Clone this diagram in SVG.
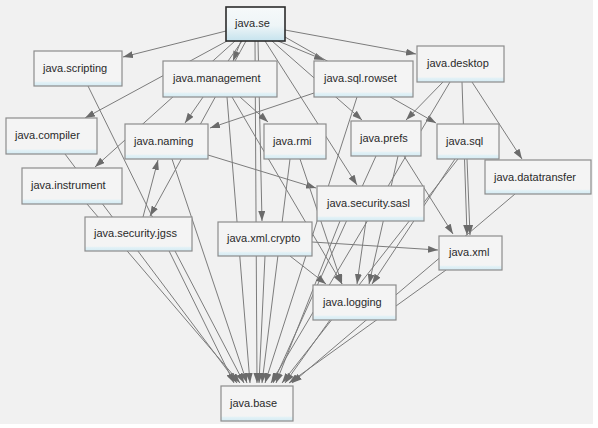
<svg xmlns="http://www.w3.org/2000/svg" width="598" height="428" viewBox="0 0 598 428">
<style>
.n rect.b{fill:url(#nf);stroke:#8c8c8c;stroke-width:1.2}
.n text{font-family:"Liberation Sans",Arial,sans-serif;font-size:11px;fill:#2a2a2a}
#conn line{stroke:#7c7c7c;stroke-width:1;fill:none;marker-end:url(#ah)}
</style>
<defs>
<linearGradient id="nf" x1="0" y1="0" x2="0" y2="1">
<stop offset="0" stop-color="#f4f4f4"/>
<stop offset="0.86" stop-color="#f4f4f4"/>
<stop offset="0.9" stop-color="#e2f1f6"/>
<stop offset="1" stop-color="#d4ebf3"/>
</linearGradient>
<linearGradient id="sef" x1="0" y1="0" x2="0" y2="1">
<stop offset="0" stop-color="#f6f9fa"/>
<stop offset="0.55" stop-color="#eef5f7"/>
<stop offset="1" stop-color="#c6e3ee"/>
</linearGradient>
<marker id="ah" markerWidth="10" markerHeight="7" refX="10" refY="3.5" orient="auto" markerUnits="userSpaceOnUse">
<path d="M0,0 L10,3.5 L0,7 z" fill="#6b6b6b"/>
</marker>
</defs>
<rect x="0" y="0" width="598" height="428" fill="#ffffff"/>
<rect x="0" y="0" width="593" height="424" fill="#f1f1f1"/>
<g id="conn">
<line x1="226" y1="31" x2="123" y2="57"/>
<line x1="227" y1="41" x2="85" y2="118"/>
<line x1="241" y1="41" x2="233" y2="61"/>
<line x1="235" y1="41" x2="95" y2="167"/>
<line x1="242" y1="41" x2="185" y2="123"/>
<line x1="246" y1="41" x2="150" y2="216"/>
<line x1="258" y1="41" x2="262" y2="221"/>
<line x1="255" y1="41" x2="257" y2="383"/>
<line x1="265" y1="41" x2="357" y2="185"/>
<line x1="272" y1="41" x2="362" y2="120"/>
<line x1="278" y1="41" x2="324" y2="60"/>
<line x1="285" y1="37" x2="436" y2="123"/>
<line x1="285" y1="30" x2="416" y2="54"/>
<line x1="240" y1="97" x2="268" y2="122"/>
<line x1="227" y1="97" x2="250" y2="383"/>
<line x1="232" y1="97" x2="342" y2="284"/>
<line x1="314" y1="93" x2="210" y2="128"/>
<line x1="357" y1="97" x2="265" y2="383"/>
<line x1="208" y1="155" x2="316" y2="188"/>
<line x1="172" y1="159" x2="247" y2="383"/>
<line x1="143" y1="217" x2="158" y2="160"/>
<line x1="175" y1="251" x2="244" y2="383"/>
<line x1="88" y1="86" x2="234" y2="383"/>
<line x1="65" y1="154" x2="237" y2="383"/>
<line x1="87" y1="204" x2="240" y2="383"/>
<line x1="300" y1="159" x2="342" y2="284"/>
<line x1="290" y1="159" x2="262" y2="383"/>
<line x1="443" y1="82" x2="406" y2="120"/>
<line x1="472" y1="82" x2="522" y2="159"/>
<line x1="462" y1="82" x2="467" y2="235"/>
<line x1="450" y1="82" x2="271" y2="383"/>
<line x1="404" y1="156" x2="453" y2="234"/>
<line x1="398" y1="156" x2="369" y2="284"/>
<line x1="376" y1="156" x2="273" y2="383"/>
<line x1="467" y1="159" x2="470" y2="235"/>
<line x1="455" y1="159" x2="372" y2="284"/>
<line x1="458" y1="159" x2="282" y2="383"/>
<line x1="366" y1="221" x2="357" y2="284"/>
<line x1="340" y1="221" x2="276" y2="383"/>
<line x1="312" y1="242" x2="438" y2="250"/>
<line x1="290" y1="256" x2="326" y2="284"/>
<line x1="265" y1="256" x2="259" y2="383"/>
<line x1="446" y1="270" x2="289" y2="383"/>
<line x1="515" y1="194" x2="292" y2="383"/>
<line x1="330" y1="320" x2="285" y2="383"/>
</g>
<g id="java.se" class="n"><rect x="226" y="7" width="59" height="34" fill="url(#sef)" stroke="#2b2b2b" stroke-width="1.6"/><text x="235" y="27">java.se</text></g>
<g id="java.scripting" class="n"><rect class="b" x="34" y="51" width="88" height="35"/><text x="43" y="72">java.scripting</text></g>
<g id="java.management" class="n"><rect class="b" x="163" y="61" width="114" height="36"/><text x="173" y="82">java.management</text></g>
<g id="java.sql.rowset" class="n"><rect class="b" x="314" y="61" width="99" height="36"/><text x="324" y="82">java.sql.rowset</text></g>
<g id="java.desktop" class="n"><rect class="b" x="417" y="46" width="87" height="36"/><text x="427" y="67">java.desktop</text></g>
<g id="java.compiler" class="n"><rect class="b" x="6" y="118" width="91" height="36"/><text x="15" y="139">java.compiler</text></g>
<g id="java.naming" class="n"><rect class="b" x="125" y="124" width="83" height="35"/><text x="134" y="145">java.naming</text></g>
<g id="java.rmi" class="n"><rect class="b" x="264" y="124" width="62" height="35"/><text x="273" y="145">java.rmi</text></g>
<g id="java.prefs" class="n"><rect class="b" x="351" y="121" width="70" height="35"/><text x="360" y="142">java.prefs</text></g>
<g id="java.sql" class="n"><rect class="b" x="437" y="124" width="62" height="35"/><text x="446" y="145">java.sql</text></g>
<g id="java.instrument" class="n"><rect class="b" x="22" y="168" width="100" height="36"/><text x="31" y="189">java.instrument</text></g>
<g id="java.datatransfer" class="n"><rect class="b" x="485" y="160" width="106" height="34"/><text x="494" y="181">java.datatransfer</text></g>
<g id="java.security.sasl" class="n"><rect class="b" x="317" y="186" width="107" height="35"/><text x="327" y="207">java.security.sasl</text></g>
<g id="java.security.jgss" class="n"><rect class="b" x="85" y="217" width="107" height="34"/><text x="94" y="237">java.security.jgss</text></g>
<g id="java.xml.crypto" class="n"><rect class="b" x="218" y="222" width="94" height="34"/><text x="227" y="242">java.xml.crypto</text></g>
<g id="java.xml" class="n"><rect class="b" x="439" y="236" width="63" height="34"/><text x="449" y="256">java.xml</text></g>
<g id="java.logging" class="n"><rect class="b" x="313" y="285" width="83" height="35"/><text x="323" y="306">java.logging</text></g>
<g id="java.base" class="n"><rect class="b" x="221" y="386" width="72" height="35"/><text x="230" y="407">java.base</text></g>
</svg>
